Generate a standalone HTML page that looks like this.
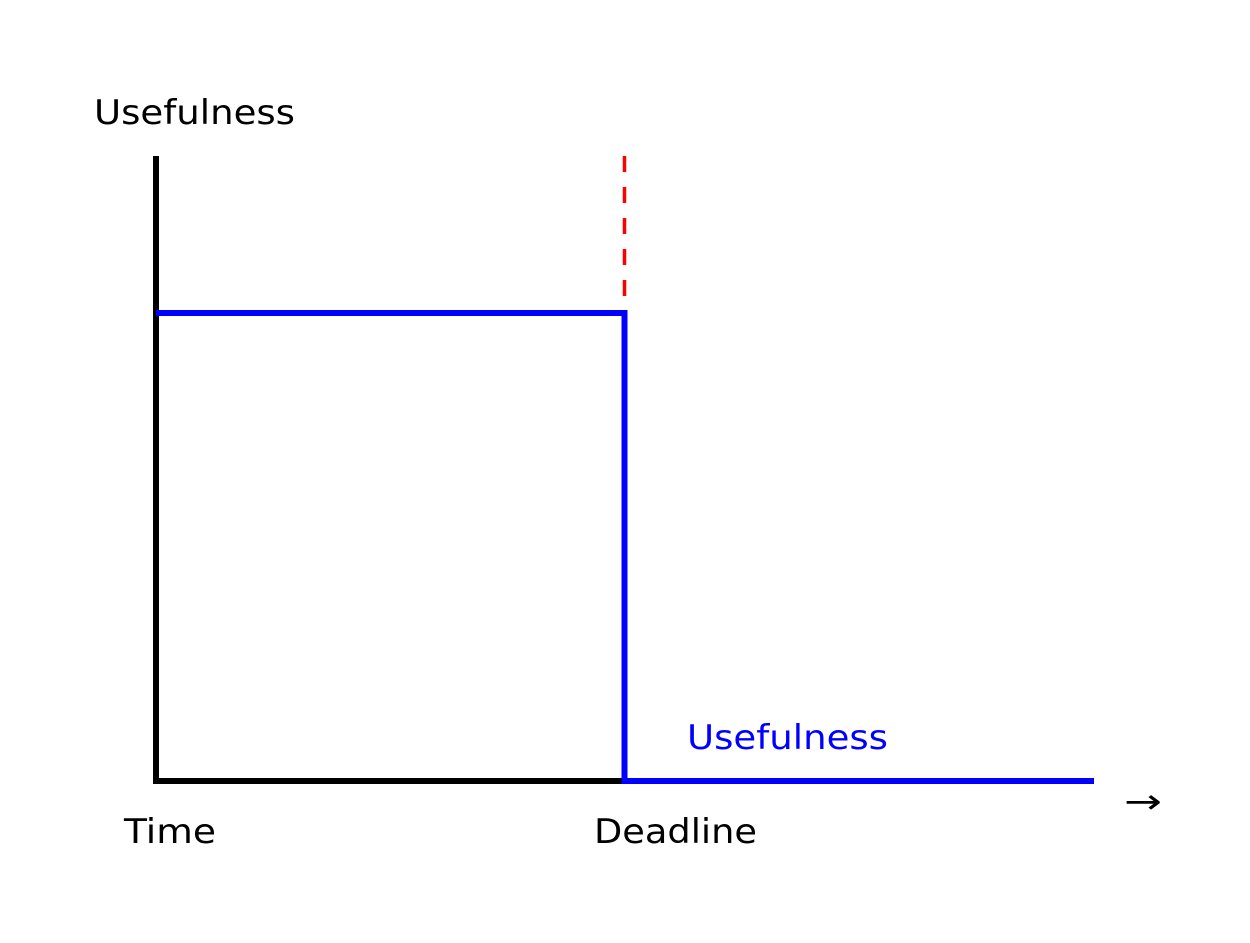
<!DOCTYPE html>
<html><head><style>html,body{margin:0;padding:0;background:#fff}</style></head>
<body>
<svg width="1250" height="938" xmlns="http://www.w3.org/2000/svg" font-family="DejaVu Sans, Liberation Sans, sans-serif" font-size="34">
<rect width="1250" height="938" fill="#fff"/>
<line x1="624.5" y1="156" x2="624.5" y2="300" stroke="#f00" stroke-width="3.5" stroke-dasharray="16,15"/>
<line x1="156" y1="156" x2="156" y2="784" stroke="#000" stroke-width="6"/>
<line x1="153" y1="781" x2="625" y2="781" stroke="#000" stroke-width="6"/>
<polyline points="156,313 624.5,313 624.5,781 1094,781" fill="none" stroke="#00f" stroke-width="6"/>
<text x="94" y="124" fill="#000" textLength="201" lengthAdjust="spacingAndGlyphs">Usefulness</text>
<text x="124" y="843" fill="#000" textLength="92" lengthAdjust="spacingAndGlyphs">Time</text>
<text x="594" y="843" fill="#000" textLength="163" lengthAdjust="spacingAndGlyphs">Deadline</text>
<text x="687" y="749" fill="#00f" textLength="201" lengthAdjust="spacingAndGlyphs">Usefulness</text>
<text x="1124" y="813" fill="#000" textLength="38" lengthAdjust="spacingAndGlyphs">→</text>
</svg>
</body></html>
